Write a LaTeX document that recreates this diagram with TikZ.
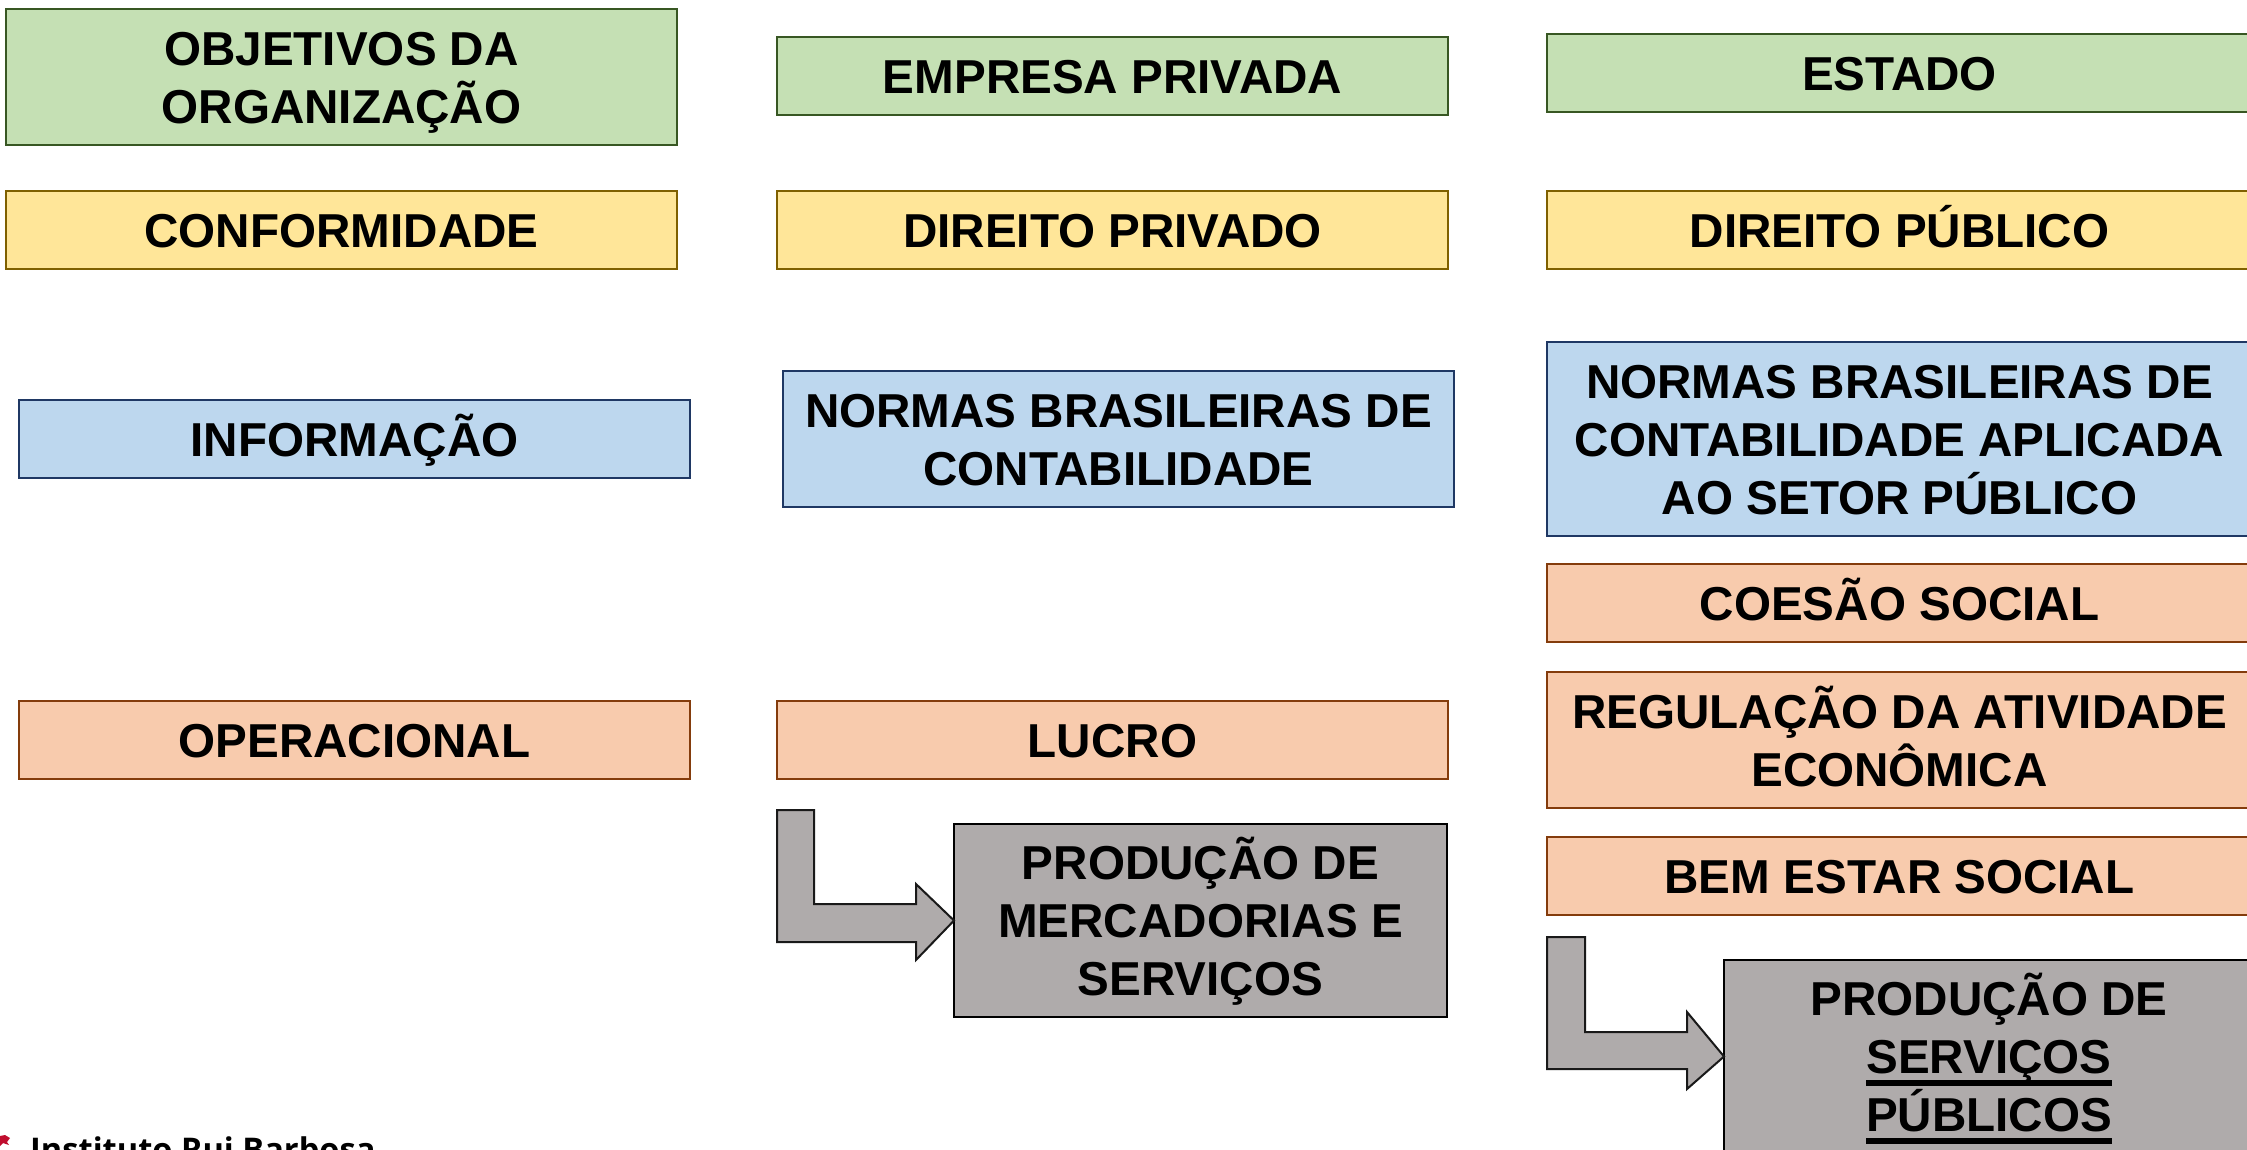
\documentclass[tikz,border=0pt]{standalone}
\usepackage{fontspec}
\setmainfont{Liberation Sans}
\newfontfamily\logofont{Open Sans}
\definecolor{gfill}{HTML}{C5E0B4}\definecolor{gline}{HTML}{385723}
\definecolor{yfill}{HTML}{FFE699}\definecolor{yline}{HTML}{7F6000}
\definecolor{bfill}{HTML}{BDD7EE}\definecolor{bline}{HTML}{1F3864}
\definecolor{ofill}{HTML}{F8CBAD}\definecolor{oline}{HTML}{843C0C}
\definecolor{pfill}{HTML}{AFABAB}\definecolor{logored}{HTML}{C00D2E}
\newcommand\ulword[1]{\leavevmode\setbox0\hbox{#1}\rlap{\smash{\rule[-12pt]{\wd0}{5.5pt}}}\box0}
\newcommand\lp{\rule[-11.5pt]{0pt}{57.5pt}}
\tikzset{
  x=1pt,y=-1pt,
  card/.style={anchor=north west,outer sep=0pt,inner sep=0pt,line width=1.6pt,align=center,
    font=\fontsize{47.6}{58}\selectfont\bfseries,minimum width=671pt},
  green/.style={card,fill=gfill,draw=gline},
  yellow/.style={card,fill=yfill,draw=yline},
  blue/.style={card,fill=bfill,draw=bline},
  orange/.style={card,fill=ofill,draw=oline},
  grey/.style={card,fill=pfill,draw=black,minimum width=493pt,minimum height=193pt},
  bent/.style={fill=pfill,draw=black!90,line width=2pt,line join=miter},
  short/.style={minimum height=78pt},
  wide/.style={minimum width=705pt}
}
\begin{document}
\begin{tikzpicture}
\useasboundingbox (0,0) rectangle (2247,1149);
% left column
\node[green,minimum height=136pt] (a1) at (6,9) {\lp OBJETIVOS DA\\\lp ORGANIZAÇÃO};
\node[yellow,short] (a2) at (6,191) {\lp CONFORMIDADE};
\node[blue,short] (a3) at (19,400) {\lp INFORMAÇÃO};
\node[orange,short] (a4) at (19,701) {\lp OPERACIONAL};
% middle column
\node[green,short] (b1) at (777,37) {\lp EMPRESA PRIVADA};
\node[yellow,short] (b2) at (777,191) {\lp DIREITO PRIVADO};
\node[blue,minimum height=136pt] (b3) at (783,371) {\lp NORMAS BRASILEIRAS DE\\\lp CONTABILIDADE};
\node[orange,short] (b4) at (777,701) {\lp LUCRO};
\node[grey] (b5) at (954,824) {\lp PRODUÇÃO DE\\\lp MERCADORIAS E\\\lp SERVIÇOS};
% right column
\node[green,short,wide] (c1) at (1547,34) {\lp ESTADO};
\node[yellow,short,wide] (c2) at (1547,191) {\lp DIREITO PÚBLICO};
\node[blue,wide,minimum height=194pt] (c3) at (1547,342) {\lp NORMAS BRASILEIRAS DE\\\lp CONTABILIDADE APLICADA\\\lp AO SETOR PÚBLICO};
\node[orange,short,wide] (c4) at (1547,564) {\lp COESÃO SOCIAL};
\node[orange,wide,minimum height=136pt] (c5) at (1547,672) {\lp REGULAÇÃO DA ATIVIDADE\\\lp ECONÔMICA};
\node[orange,short,wide] (c6) at (1547,837) {\lp BEM ESTAR SOCIAL};
\node[grey,minimum width=530pt] (c7) at (1724,960) {\lp PRODUÇÃO DE\\\lp\ulword{SERVIÇOS}\\\lp\ulword{PÚBLICOS}};
% bent arrows
\coordinate (t1) at (b5.west);
\coordinate (t2) at (c7.west);
\draw[bent] (777,810) -- (814,810) -- (814,904) -- (916,904) -- (916,884) -- (t1)
  -- (916,960) -- (916,942) -- (777,942) -- cycle;
\draw[bent] (1547,937) -- (1585,937) -- (1585,1032) -- (1687,1032) -- (1687,1012) -- (t2)
  -- (1687,1089) -- (1687,1069) -- (1547,1069) -- cycle;
% logo, cut by the page edge
\node[anchor=base west,inner sep=0pt,font=\logofont\bfseries\fontsize{32.6}{40}\selectfont] (logo) at (30,1161) {Instituto Rui Barbosa};
\fill[logored] (0,1136) -- (5,1135) -- (10,1138) -- (7,1142) -- (9,1145) -- (3,1143) -- (0,1146) -- cycle;
\end{tikzpicture}
\end{document}
